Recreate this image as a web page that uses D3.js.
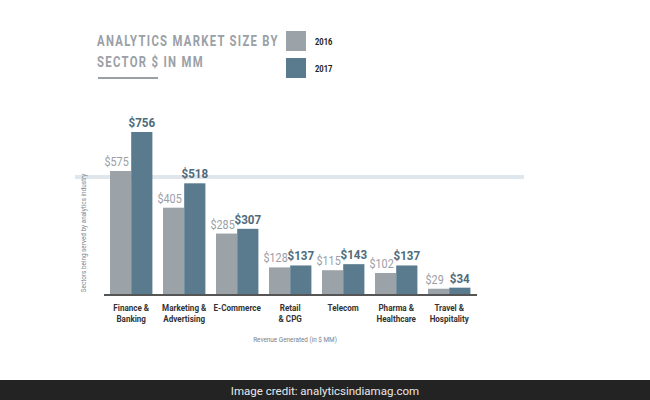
<!DOCTYPE html>
<html>
<head>
<meta charset="UTF-8" />
<title>Analytics market size by sector</title>
<script src="https://d3js.org/d3.v7.min.js"></script>
<style type="text/css">
body {
    margin: 0;
    background-color: #fff;
}
svg text {
    font-family: Roboto, "DejaVu Sans", sans-serif;
}
</style>
</head>
<body>
<svg width="650" height="400" id="svg1"></svg>

<script type="text/javascript">
var sectors = [["Finance &", "Banking"], ["Marketing &", "Advertising"], ["E-Commerce"],
    ["Retail", "& CPG"], ["Telecom"], ["Pharma &", "Healthcare"], ["Travel &", "Hospitality"]];
var years = ["2016", "2017"];
var values2016 = [575, 405, 285, 128, 115, 102, 29];
var values2017 = [756, 518, 307, 137, 143, 137, 34];

var colors = ["#9ba3a9", "#5a7b8d"];
var labelColors = ["#9aa0a6", "#4f6b7b"];

var svg = d3.select("#svg1");

// the source uses a condensed face, so squeeze text horizontally
function squeeze(px, py, k) {
    return "translate(" + px + "," + py + ") scale(" + k + ",1)";
}

var x = d3.scaleBand()
    .domain(d3.range(sectors.length))
    .range([104.7, 475.7])
    .paddingInner(0.2)
    .paddingOuter(0.1);

var xInner = d3.scaleBand()
    .domain(years)
    .range([0, x.bandwidth()]);

var y = d3.scaleLinear()
    .domain([0, 756])
    .range([295, 132]);

// light reference band behind the bars
svg.append("rect")
    .attr("x", 75).attr("y", 175)
    .attr("width", 449).attr("height", 4)
    .attr("fill", "#dfe6ec");

// title, squeezed to the width it has in the source
var title = svg.append("g").attr("fill", "#9aa0a6")
    .attr("font-size", 15.5).attr("font-weight", "bold");
[["ANALYTICS MARKET SIZE BY", 46, 182], ["SECTOR $ IN MM", 67, 107]].forEach(function(t) {
    var el = title.append("text").attr("letter-spacing", 1.8).text(t[0]);
    var w = el.node().getComputedTextLength();
    el.attr("transform", squeeze(97, t[1], t[2] / w));
});
svg.append("rect").attr("x", 98).attr("y", 77).attr("width", 60).attr("height", 2)
    .attr("fill", "#9aa0a6");

// legend
var legend = svg.append("g").selectAll("g").data(years).enter().append("g")
    .attr("transform", function(d, i) { return "translate(286," + (31 + i * 27) + ")"; });
legend.append("rect").attr("width", 20).attr("height", 20)
    .attr("fill", function(d, i) { return colors[i]; });
legend.append("text")
    .attr("transform", squeeze(29, 14, 0.8))
    .attr("font-size", 9.5).attr("font-weight", "bold").attr("fill", "#222")
    .text(function(d) { return d; });

// bars
var series = [values2016, values2017];
years.forEach(function(yr, s) {
    var g = svg.append("g");
    g.selectAll("rect").data(series[s]).enter().append("rect")
        .attr("x", function(d, i) { return x(i) + xInner(yr); })
        .attr("y", function(d) { return y(d); })
        .attr("width", xInner.bandwidth())
        .attr("height", function(d) { return y(0) - y(d); })
        .attr("fill", colors[s]);
    g.selectAll("text").data(series[s]).enter().append("text")
        .attr("transform", function(d, i) {
            return squeeze(x(i) + xInner(yr) + xInner.bandwidth() / 2 - (s == 0 ? 4 : 0), y(d) - 5, s == 0 ? 0.8 : 0.86);
        })
        .attr("text-anchor", "middle")
        .attr("font-size", 13.5)
        .attr("font-weight", s == 1 ? "bold" : "normal")
        .attr("fill", labelColors[s])
        .text(function(d) { return "$" + d; });
});

// baseline axis
var axis = svg.append("g").attr("transform", "translate(0,295)")
    .call(d3.axisBottom(x).tickSize(0).tickFormat(""));
axis.select(".domain").attr("stroke", "#555").attr("stroke-width", 2)
    .attr("d", "M104,0H477");

// category labels
var cat = svg.append("g").selectAll("text").data(sectors).enter().append("text")
    .attr("text-anchor", "middle")
    .attr("font-size", 9.5).attr("font-weight", "bold").attr("fill", "#333")
    .attr("transform", function(d, i) { return squeeze(x(i) + x.bandwidth() / 2, 311, 0.85); });
cat.selectAll("tspan").data(function(d) { return d; }).enter().append("tspan")
    .attr("x", 0).attr("dy", function(d, i) { return i == 0 ? 0 : 11.5; })
    .text(function(d) { return d; });

// axis titles
svg.append("text")
    .attr("transform", squeeze(295, 342, 0.85))
    .attr("text-anchor", "middle").attr("font-size", 7.5).attr("fill", "#7a8088")
    .text("Revenue Generated (in $ MM)");
svg.append("text")
    .attr("transform", "translate(86,233) rotate(-90) scale(0.85,1)")
    .attr("text-anchor", "middle").attr("font-size", 7.5).attr("fill", "#80868c")
    .text("Sectors being served by analytics industry");

// credit strip
svg.append("rect").attr("x", 0).attr("y", 380).attr("width", 650).attr("height", 20)
    .attr("fill", "#232323");
svg.append("text").attr("x", 325).attr("y", 394.5)
    .attr("text-anchor", "middle").attr("font-size", 11.5).attr("fill", "#e8e8e8")
    .text("Image credit: analyticsindiamag.com");
</script>
</body>
</html>
